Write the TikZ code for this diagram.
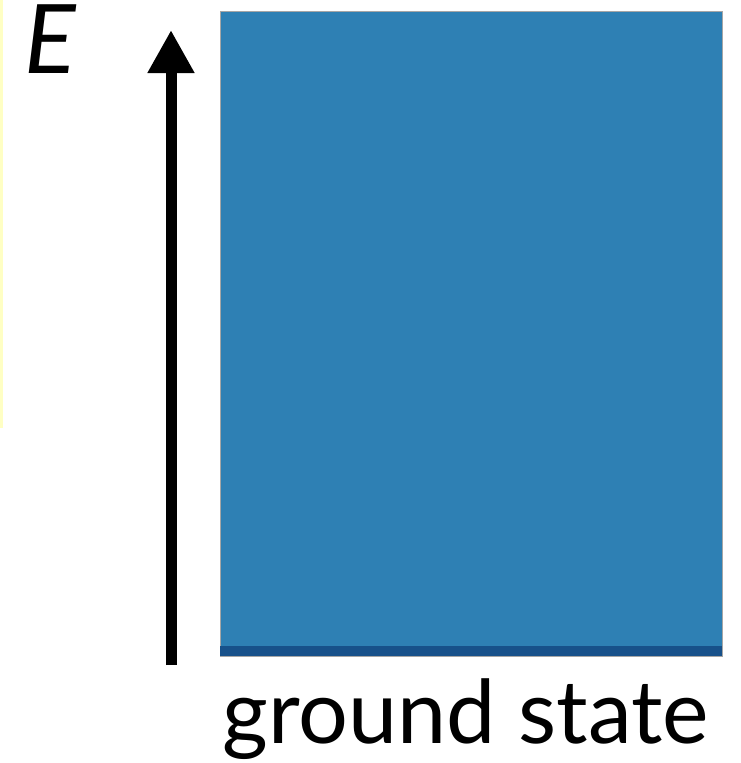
\documentclass[tikz,border=0pt]{standalone}
\usepackage{fontspec}
\setmainfont{Lato}
\usetikzlibrary{arrows.meta,positioning}
\definecolor{bandblue}{RGB}{46,128,180}
\definecolor{groundblue}{RGB}{23,81,138}
\definecolor{noteyellow}{RGB}{255,255,196}
\tikzset{
    energy axis/.style={
        line width=11pt,
        -{Triangle[length=43pt,width=44pt]}
    },
    band/.style={
        fill=bandblue,
        draw=black!35,
        line width=0.6pt
    },
    ground level/.style={
        fill=groundblue
    },
    big label/.style={
        inner sep=0pt,
        font=\fontsize{88}{92}\selectfont
    }
}
\begin{document}
\begin{tikzpicture}[x=1pt,y=-1pt]
                \useasboundingbox (0,0) rectangle (741,763);
                % yellow edge of the neighbouring panel
                \fill [noteyellow] (0,0) rectangle (3,428);
                \coordinate (B1) at (220,11);
                \coordinate (B2) at (722,656);
                \coordinate (G1) at (220,646);
                \coordinate (A1) at (171,665);
                \coordinate (A2) at (171,30);
                \draw [band] (B1) rectangle (B2);
                \fill [ground level] (G1) rectangle (B2);
                \draw [energy axis] (A1) -- (A2);
                \node [big label, anchor=base west, text height=0.72em, font=\fontsize{96}{100}\selectfont] (energy) at (24,73) {\itshape E};
                \node [big label, anchor=base] (ground) at (466,743) {ground state};
            \end{tikzpicture}
\end{document}
